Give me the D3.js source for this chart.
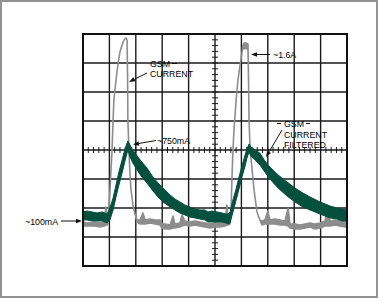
<!DOCTYPE html>
<html>
<head>
<meta charset="utf-8">
<script src="https://cdn.jsdelivr.net/npm/d3@7"></script>
<style>
  body { margin: 0; background: #fff; }
  svg text { font-family: "Liberation Sans", Arial, Helvetica, sans-serif; font-size: 8.8px; fill: #000; }
</style>
</head>
<body>
<div id="chart"></div>
<script>
// time in ms (1 ms/div), current in mA (250 mA/div)

// GSM current (grey trace): upper / lower edge of the noisy trace
const grayT  = [0, 0.19, 0.45, 0.64, 0.80, 0.87, 0.91, 0.95,
  1.02, 1.10, 1.14, 1.17, 1.25, 1.33, 1.40, 1.48, 1.55, 1.63, 1.67, 1.69, 1.70, 1.74, 1.78, 1.82, 1.89, 1.97, 2.05,
  2.16, 2.27, 2.35, 2.54, 2.73, 2.92, 2.99, 3.11, 3.30, 3.41, 3.48, 3.67, 3.75, 3.86, 4.05, 4.24, 4.43, 4.62, 4.81,
  5.00, 5.19, 5.38, 5.45, 5.49, 5.57,
  5.61, 5.64, 5.68, 5.72, 5.80, 5.87, 5.95, 6.02, 6.06, 6.10, 6.17, 6.25, 6.27, 6.29, 6.33, 6.40, 6.48, 6.59, 6.70,
  6.78, 6.89, 7.00, 7.08, 7.27, 7.46, 7.65, 7.77, 7.84, 8.03, 8.22, 8.41, 8.60, 8.79, 8.98, 9.17, 9.24, 9.36, 9.55,
  9.73, 9.92, 10.0];
const grayHi = [79, 71, 79, 71, 79, 209, 79, 88,
  347, 700, 959, 1131, 1303, 1450, 1545, 1605, 1648, 1666, 1648, 1303, 959, 700, 485, 355, 226, 148, 97,
  97, 157, 97, 105, 97, 97, 62, 62, 53, 131, 62, 71, 140, 88, 79, 88, 79, 71, 62,
  71, 71, 79, 226, 79, 88,
  183, 441, 700, 872, 1131, 1303, 1433, 1536, 1605, 1622, 1622, 1614, 1303, 959, 700, 545, 355, 166, 97,
  88, 97, 174, 97, 105, 97, 88, 200, 62, 62, 53, 62, 71, 62, 71, 88, 183, 88, 97,
  88, 79, 79];
const grayLo = [45, 45, 45, 36, 45, 53, 53, 62,
  347, 700, 959, 1131, 1303, 1450, 1545, 1605, 1648, 1666, 1648, 1303, 959, 700, 485, 355, 226, 148, 79,
  62, 62, 62, 71, 62, 53, 28, 19, 19, 28, 28, 36, 45, 53, 45, 53, 45, 36, 28,
  36, 36, 45, 53, 53, 62,
  183, 441, 700, 872, 1131, 1303, 1433, 1536, 1605, 1571, 1579, 1562, 1303, 959, 700, 545, 355, 166, 97,
  53, 62, 62, 62, 62, 53, 53, 45, 28, 19, 19, 28, 36, 19, 28, 45, 45, 45, 53,
  45, 36, 36];

// GSM current filtered (green trace): upper / lower edge of the noise band
const greenT  = [0, 0.15, 0.34, 0.53, 0.72, 0.83, 0.91, 1.02, 1.14, 1.25, 1.36, 1.48, 1.59, 1.67, 1.70,
  1.78, 1.89, 2.05, 2.20, 2.42, 2.65, 2.84, 3.03, 3.30, 3.48, 3.67, 3.86, 4.05, 4.24, 4.43, 4.62, 4.73, 4.89,
  5.08, 5.27, 5.42, 5.49, 5.57, 5.68, 5.80, 5.91, 6.02, 6.14, 6.21, 6.29,
  6.36, 6.52, 6.70, 6.89, 7.08, 7.39, 7.73, 8.03, 8.33, 8.60, 8.98, 9.36, 9.62, 9.81, 10.0];
const greenHi = [166, 174, 166, 157, 166, 157, 148, 200, 286, 398, 510, 614, 709, 760, 778,
  743, 700, 648, 605, 545, 467, 416, 372, 312, 278, 252, 226, 209, 191, 183, 183, 166, 174,
  166, 157, 148, 148, 166, 269, 364, 467, 562, 657, 709, 752,
  726, 700, 674, 605, 553, 485, 424, 372, 329, 295, 252, 217, 200, 191, 183];
const greenLo = [97, 97, 88, 88, 88, 79, 71, 97, 183, 295, 398, 502, 605, 674, 700,
  640, 588, 528, 476, 416, 347, 295, 252, 209, 183, 157, 140, 122, 114, 105, 97, 79, 79,
  79, 79, 71, 62, 71, 166, 269, 364, 467, 562, 631, 683,
  648, 614, 571, 510, 450, 372, 303, 252, 209, 183, 148, 114, 105, 88, 88];

const xDomain = [0, 10];     // 10 divisions
const yDomain = [-300, 1700]; // 8 divisions

const W = 380, H = 300;
const margin = {top: 34, left: 83, right: 33, bottom: 34};
const width = W - margin.left - margin.right,
    height = H - margin.top - margin.bottom;

const svg = d3.select("#chart")
    .append("svg")
    .attr("width", W)
    .attr("height", H);

svg.append("rect")
    .attr("x", 1).attr("y", 1)
    .attr("width", 376).attr("height", 296)
    .attr("fill", "#fff")
    .attr("stroke", "#939393")
    .attr("stroke-width", 2);

const gr = svg.append("g")
    .attr("transform", "translate(" + margin.left + "," + margin.top + ")");

const xScale = d3.scaleLinear().domain(xDomain).range([0, width]);
const yScale = d3.scaleLinear().domain(yDomain).range([height, 0]);

// graticule
const gridX = d3.range(1, 10), gridY = d3.range(1, 8).map(j => yDomain[0] + 250 * j);
gr.selectAll(".gx").data(gridX).join("line")
    .attr("x1", d => xScale(d)).attr("x2", d => xScale(d))
    .attr("y1", 0).attr("y2", height)
    .attr("stroke", "#1a1a1a").attr("stroke-width", 1.4);
gr.selectAll(".gy").data(gridY).join("line")
    .attr("y1", d => yScale(d)).attr("y2", d => yScale(d))
    .attr("x1", 0).attr("x2", width)
    .attr("stroke", "#1a1a1a").attr("stroke-width", 1.4);

// minor ticks on the centre axes
const xMid = xScale(5), yMid = yScale(700);
gr.selectAll(".tx").data(d3.range(1, 50).map(i => i * 0.2)).join("line")
    .attr("x1", d => xScale(d)).attr("x2", d => xScale(d))
    .attr("y1", yMid - 3).attr("y2", yMid + 3)
    .attr("stroke", "#1a1a1a").attr("stroke-width", 1);
gr.selectAll(".ty").data(d3.range(1, 40).map(k => yDomain[0] + 50 * k)).join("line")
    .attr("y1", d => yScale(d)).attr("y2", d => yScale(d))
    .attr("x1", xMid - 3).attr("x2", xMid + 3)
    .attr("stroke", "#1a1a1a").attr("stroke-width", 1);

// traces
const band = d3.area()
    .x(d => xScale(d.t))
    .y0(d => yScale(d.lo))
    .y1(d => yScale(d.hi));

const grayData = grayT.map((t, i) => ({t, hi: grayHi[i], lo: grayLo[i]}));
const greenData = greenT.map((t, i) => ({t, hi: greenHi[i], lo: greenLo[i]}));

gr.append("path")
    .datum(grayData)
    .attr("d", band)
    .attr("fill", "#8d8d8d")
    .attr("stroke", "#8d8d8d")
    .attr("stroke-width", 1.6)
    .attr("stroke-linejoin", "round");

gr.append("path")
    .datum(greenData)
    .attr("d", band)
    .attr("fill", "#03503f")
    .attr("stroke", "#03503f")
    .attr("stroke-width", 1)
    .attr("stroke-linejoin", "round");

// frame
gr.append("rect")
    .attr("width", width).attr("height", height)
    .attr("fill", "none")
    .attr("stroke", "#111")
    .attr("stroke-width", 2);

// annotations
function arrow(x1, y1, x2, y2) {
    const a = Math.atan2(y2 - y1, x2 - x1), L = 6, w = 2.3;
    const bx = x2 - L * Math.cos(a), by = y2 - L * Math.sin(a);
    svg.append("line")
        .attr("x1", x1).attr("y1", y1).attr("x2", bx).attr("y2", by)
        .attr("stroke", "#111").attr("stroke-width", 1);
    svg.append("path")
        .attr("d", "M" + x2 + "," + y2 +
            "L" + (bx + w * Math.sin(a)) + "," + (by - w * Math.cos(a)) +
            "L" + (bx - w * Math.sin(a)) + "," + (by + w * Math.cos(a)) + "Z")
        .attr("fill", "#111");
}
function dash(x1, x2, y) {
    svg.append("line").attr("x1", x1).attr("x2", x2).attr("y1", y).attr("y2", y)
        .attr("stroke", "#111").attr("stroke-width", 1);
}
function label(x, y, t) {
    svg.append("text").attr("x", x).attr("y", y).text(t);
}

label(150, 67, "GSM");
label(150, 77, "CURRENT");
dash(172, 177, 63.5);
arrow(147, 73, 129, 82);

label(157, 143.5, "~750mA");
arrow(156, 140.5, 133, 144.5);

label(273, 57.5, "~1.6A");
arrow(270, 54.5, 251, 54.5);

label(284, 127, "GSM");
label(284, 137.5, "CURRENT");
label(284, 148, "FILTERED");
dash(277, 281, 123.5);
dash(306, 310, 123.5);
arrow(282, 130, 266, 157);

label(25, 224.5, "~100mA");
arrow(61, 221, 82, 221);
</script>
</body>
</html>
